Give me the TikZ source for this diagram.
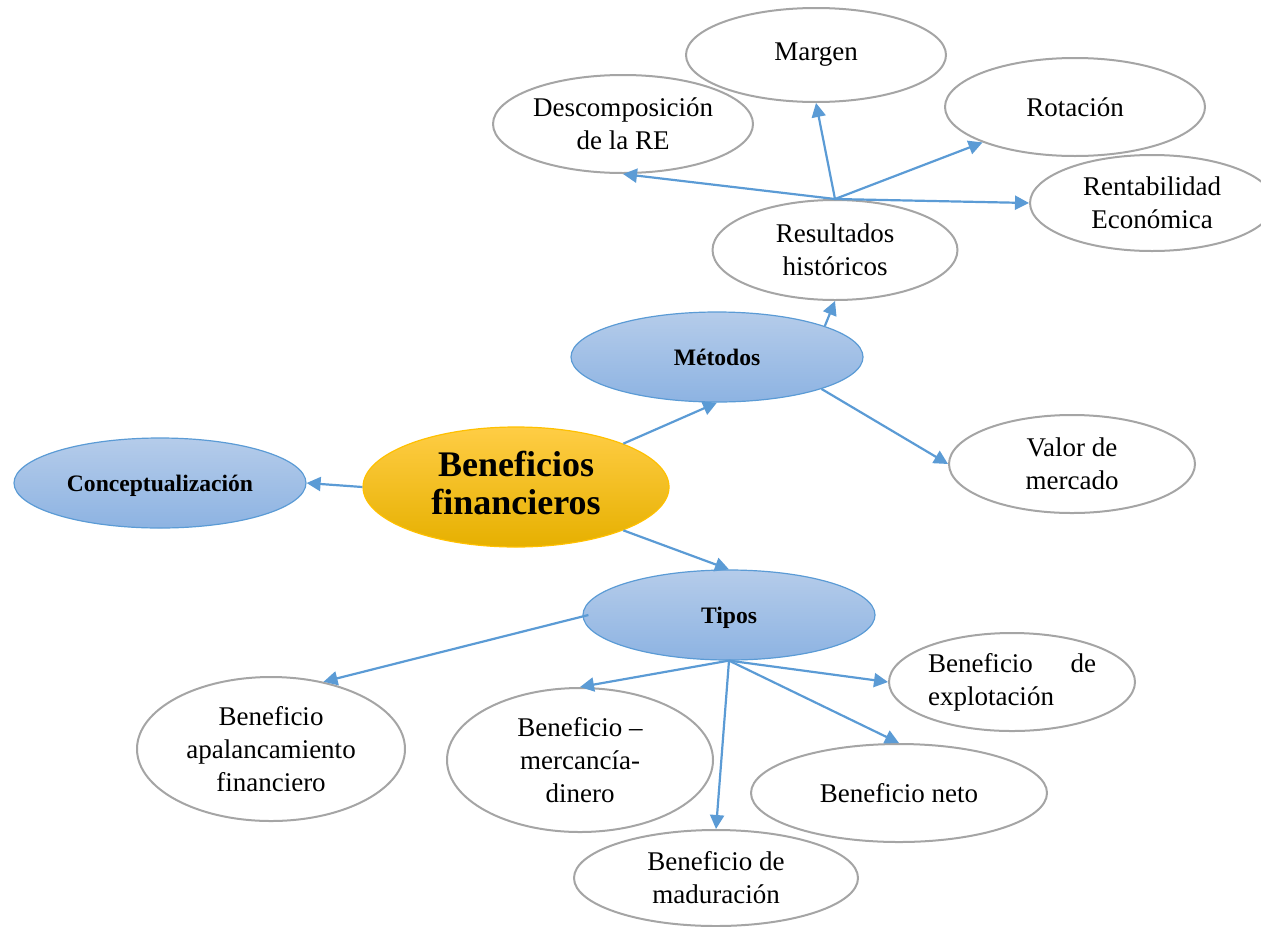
\documentclass[tikz,border=0pt]{standalone}
\usepackage{fontspec}
\setmainfont{Liberation Serif}
\usetikzlibrary{arrows.meta,shapes.geometric}

\definecolor{linkblue}{HTML}{5B9BD5}
\definecolor{ringgray}{HTML}{A5A5A5}
\definecolor{bluetop}{HTML}{B5CCEA}
\definecolor{bluebot}{HTML}{8DB3E2}
\definecolor{goldtop}{HTML}{FFCD45}
\definecolor{goldmid}{HTML}{FFC000}
\definecolor{goldbot}{HTML}{E6B000}

\tikzset{
  leaf/.style={ellipse, draw=ringgray, line width=1pt, fill=white, inner sep=0pt,
    align=center, font=\fontsize{13.5}{16.5}\selectfont},
  branch/.style={ellipse, draw=linkblue, line width=0.6pt, inner sep=0pt,
    top color=bluetop, bottom color=bluebot, text depth=0pt,
    minimum width=146pt, minimum height=45pt,
    font=\fontsize{11.8}{14}\selectfont\bfseries},
  core/.style={ellipse, draw=goldmid, line width=0.6pt, inner sep=0pt, align=center,
    top color=goldtop, middle color=goldmid, bottom color=goldbot, text depth=4pt,
    font=\fontsize{18}{19}\selectfont\bfseries},
  link/.style={draw=linkblue, line width=1.1pt, -{Triangle[length=7pt,width=7pt]}}
}

\begin{document}
\begin{tikzpicture}[x=0.5pt, y=-0.5pt]
  \useasboundingbox (0,0) rectangle (1261,926);

  % centre and first level
  \node[core, minimum width=153pt, minimum height=60pt] (ben) at (516,487) {Beneficios\\financieros};
  \node[branch] (concept) at (160,483) {Conceptualización};
  \node[branch] (met) at (717,357) {Métodos};
  \node[branch] (tipos) at (729,615) {Tipos};

  % methods
  \node[leaf, minimum width=122.5pt, minimum height=50pt] (res) at (835,250) {Resultados\\históricos};
  \node[leaf, minimum width=123pt, minimum height=49pt] (valor) at (1072,464) {Valor de\\mercado};
  \node[leaf, minimum width=130pt, minimum height=47pt] (margen) at (816,55) {Margen};
  \node[leaf, minimum width=130pt, minimum height=49pt] (desc) at (623,124) {Descomposición\\de la RE};
  \node[leaf, minimum width=130pt, minimum height=49pt] (rot) at (1075,107) {Rotación};
  \node[leaf, minimum width=122pt, minimum height=48pt] (rent) at (1152,203) {Rentabilidad\\Económica};

  % types
  \node[leaf, minimum width=134pt, minimum height=72pt] (apal) at (271,749) {Beneficio\\apalancamiento\\financiero};
  \node[leaf, minimum width=133pt, minimum height=72pt] (merc) at (580,760) {Beneficio –\\mercancía-\\dinero};
  \node[leaf, minimum width=142pt, minimum height=48pt] (madur) at (716,878) {Beneficio de\\maduración};
  \node[leaf, minimum width=148pt, minimum height=49pt] (neto) at (899,793) {Beneficio neto};
  \node[leaf, minimum width=123pt, minimum height=49pt, text width=84pt, align=left] (expl) at (1012,682)
    {Beneficio \hfill de\\explotación};

  \coordinate (hub) at (res.north);

  % connectors
  \draw[link] (ben.22) -- (met.south);
  \draw[link] (ben.west) -- (concept.east);
  \draw[link] (ben.-22) -- (tipos.north);
  \draw[link] (met.16) -- (res.south);
  \draw[link] (met.-17) -- (valor.west);

  \draw[link] (hub) -- (desc.south);
  \draw[link] (hub) -- (margen.south);
  \draw[link] (hub) -- (rot);
  \draw[link] (hub) -- (rent.west);

  \draw[link] ([xshift=3pt]tipos.west) -- (apal.52);
  \draw[link] (tipos.south) -- (merc.north);
  \draw[link] (tipos.south) -- (madur.north);
  \draw[link] (tipos.south) -- (neto.north);
  \draw[link] (tipos.south) -- (expl.west);
\end{tikzpicture}
\end{document}
